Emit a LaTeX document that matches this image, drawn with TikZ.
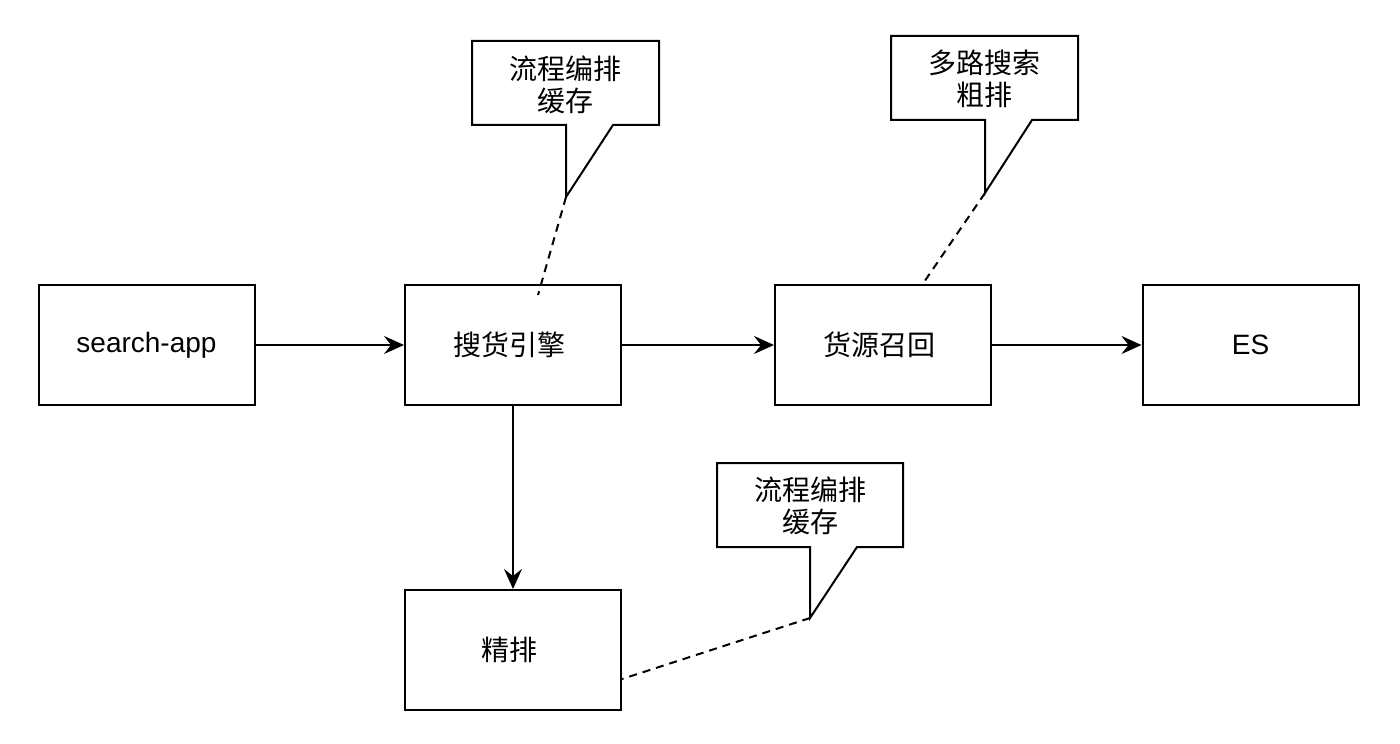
\documentclass[tikz,border=0pt]{standalone}
\usepackage{fontspec}
\setmainfont{Liberation Sans}
\newfontfamily\cjk{Noto Sans CJK SC}
\usetikzlibrary{arrows.meta}

\begin{document}
\begin{tikzpicture}[x = 0.5pt, y = -0.5pt, line width = 1pt,
    box/.style = { draw, minimum width = 108pt, minimum height = 60pt, inner sep = 0pt },
    txt/.style = { font = {\fontsize{14}{15}\selectfont} },
    zh/.style = { font = {\cjk\fontsize{14}{16}\selectfont}, align = center },
    flow/.style = { -{Stealth[length = 10pt, width = 9pt, inset = 3.5pt]} },
    note/.style = { dashed, dash pattern = on 4pt off 3pt }]
  \useasboundingbox (0,0) rectangle (1400,743);

  \node [box, txt] (app)    at (146.5,345) { search-app };
  \node [box, zh]  (engine) at (513,345)   { 搜货引擎 };
  \node [box, zh]  (recall) at (883,345)   { 货源召回 };
  \node [box, txt] (es)     at (1250.5,345) { ES };
  \node [box, zh]  (rank)   at (513,650)   { 精排 };

  \draw [flow] (app) -- (engine);
  \draw [flow] (engine) -- (recall);
  \draw [flow] (recall) -- (es);
  \draw [flow] (engine) -- (rank);

  % callouts
  \draw (472,41) -- (659,41) -- (659,125) -- (613,125) -- (566,197) coordinate (tipa)
    -- (566,125) -- (472,125) -- cycle;
  \node [zh] (calla) at (565.5,85) { 流程编排\\缓存 };
  \coordinate (enda) at (538,295);
  \draw [note] (tipa) -- (enda);

  \draw (891,36) -- (1078,36) -- (1078,120) -- (1032,120) -- (985,193) coordinate (tipb)
    -- (985,120) -- (891,120) -- cycle;
  \node [zh] (callb) at (984.5,79) { 多路搜索\\粗排 };
  \coordinate (endb) at (922,285);
  \draw [note] (tipb) -- (endb);

  \draw (717,463) -- (903,463) -- (903,547) -- (857,547) -- (810,618) coordinate (tipc)
    -- (810,547) -- (717,547) -- cycle;
  \node [zh] (callc) at (810,506) { 流程编排\\缓存 };
  \draw [note] (tipc) -- (rank.east |- 0,679);
\end{tikzpicture}
\end{document}
